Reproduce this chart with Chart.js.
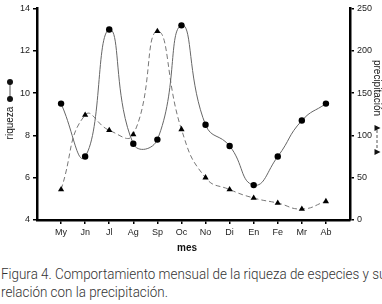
<!DOCTYPE html>
<html><head><meta charset="utf-8">
<script src="https://cdn.jsdelivr.net/npm/chart.js@4/dist/chart.umd.min.js"></script>
<style>
html,body{margin:0;padding:0;background:#fff;width:382px;height:304px;overflow:hidden}
#wrap{position:absolute;left:0;top:0;width:382px;height:262px}
#cap{position:absolute;left:1px;top:266px;font-family:"Roboto","Liberation Sans",sans-serif;font-weight:300;font-size:14.5px;line-height:18px;color:#333;white-space:nowrap;transform:scaleX(0.925);transform-origin:0 0}
</style></head><body>
<div id="wrap"><canvas id="c" width="382" height="262"></canvas></div>
<div id="cap">Figura 4. Comportamiento mensual de la riqueza de especies y su<br>relación con la precipitación.</div>
<script>
const months = ['My','Jn','Jl','Ag','Sp','Oc','No','Di','En','Fe','Mr','Ab'];
const riqueza = [9.5, 7.0, 13.0, 7.6, 7.8, 13.2, 8.5, 7.5, 5.65, 7.0, 8.7, 9.5];
const precipitacion = [36, 124, 106, 101, 223, 107, 50, 36, 26, 20, 13, 22];
const leftTicks = [4, 6, 8, 10, 12, 14];
const rightTicks = [0, 50, 100, 150, 200, 250];
const xTitle = 'mes', yTitle = 'riqueza', y2Title = 'precipitación';

const tickFont = {family: '"Liberation Sans", Arial, sans-serif', size: 9};

const extras = {
  id: 'extras',
  afterDraw(chart) {
    const ctx = chart.ctx;
    ctx.save();
    ctx.fillStyle = '#111';
    ctx.strokeStyle = '#555';
    ctx.lineWidth = 1;
    ctx.font = '10px "Liberation Sans", Arial, sans-serif';
    ctx.save();
    ctx.translate(13, 123);
    ctx.rotate(-Math.PI/2);
    ctx.textAlign = 'center'; ctx.textBaseline = 'alphabetic';
    ctx.fillText(yTitle, 0, 0);
    ctx.restore();
    ctx.beginPath(); ctx.moveTo(10, 82); ctx.lineTo(10, 99); ctx.stroke();
    ctx.beginPath(); ctx.arc(10, 82, 3, 0, Math.PI*2); ctx.fill();
    ctx.beginPath(); ctx.arc(10, 99, 3, 0, Math.PI*2); ctx.fill();
    ctx.save();
    ctx.translate(374, 88);
    ctx.rotate(Math.PI/2);
    ctx.textAlign = 'center'; ctx.textBaseline = 'alphabetic';
    ctx.fillText(y2Title, 0, 0);
    ctx.restore();
    ctx.setLineDash([3,2]);
    ctx.beginPath(); ctx.moveTo(377, 130); ctx.lineTo(377, 150); ctx.stroke();
    ctx.setLineDash([]);
    const triR = (x, y) => { ctx.beginPath(); ctx.moveTo(x + 3.5, y); ctx.lineTo(x - 2.5, y - 3); ctx.lineTo(x - 2.5, y + 3); ctx.closePath(); ctx.fill(); };
    triR(377, 128);
    triR(377, 152);
    ctx.font = 'bold 10px "Liberation Sans", Arial, sans-serif';
    ctx.textAlign = 'center';
    ctx.fillText(xTitle, 187, 251);
    ctx.restore();
  }
};

new Chart(document.getElementById('c'), {
  type: 'line',
  data: {
    datasets: [
      {
        label: yTitle,
        data: riqueza.map((v, i) => ({x: i, y: v})),
        yAxisID: 'y',
        borderColor: '#666', borderWidth: 1,
        pointStyle: 'circle', pointRadius: 3.2, pointBackgroundColor: '#000', pointBorderColor: '#000', pointBorderWidth: 0,
        tension: 0.5, fill: false
      },
      {
        label: y2Title,
        data: precipitacion.map((v, i) => ({x: i, y: v})),
        yAxisID: 'y2',
        borderColor: '#777', borderWidth: 1, borderDash: [5, 3],
        pointStyle: 'triangle', pointRadius: 3.6, pointBackgroundColor: '#000', pointBorderColor: '#000', pointBorderWidth: 0,
        tension: 0.5, fill: false
      }
    ]
  },
  options: {
    responsive: false, animation: false,
    layout: {padding: {top: 4, left: 0, right: 0, bottom: 0}},
    plugins: {legend: {display: false}, tooltip: {enabled: false}},
    scales: {
      x: {
        type: 'linear', min: -1, max: months.length,
        afterBuildTicks(s) { s.ticks = []; for (let i = -1; i <= months.length; i++) s.ticks.push({value: i}); },
        afterFit(s) { s.height = 42; },
        ticks: {font: tickFont, color: '#222', padding: 3, autoSkip: false, maxRotation: 0,
          callback: v => months[v] !== undefined ? months[v] : ''},
        grid: {drawOnChartArea: false, drawTicks: true, tickLength: 4,
          tickColor: c => (c.tick && months[c.tick.value] !== undefined) ? '#000' : 'rgba(0,0,0,0)', lineWidth: 1.5},
        border: {display: true, color: '#000', width: 2.5}
      },
      y: {
        position: 'left', min: 4, max: 14,
        afterBuildTicks(s) { s.ticks = leftTicks.map(v => ({value: v})); },
        afterFit(s) { s.width = 37; },
        ticks: {font: tickFont, color: '#222', padding: 3},
        grid: {drawOnChartArea: false, drawTicks: true, tickLength: 4, color: '#000', lineWidth: 1.5},
        border: {display: true, color: '#000', width: 2.5}
      },
      y2: {
        position: 'right', min: 0, max: 250,
        afterBuildTicks(s) { s.ticks = rightTicks.map(v => ({value: v})); },
        afterFit(s) { s.width = 32; },
        ticks: {font: tickFont, color: '#222', padding: 3},
        grid: {drawOnChartArea: false, drawTicks: true, tickLength: 4, color: '#000', lineWidth: 1.5},
        border: {display: true, color: '#000', width: 2.5}
      }
    }
  },
  plugins: [extras]
});
</script>
</body></html>
